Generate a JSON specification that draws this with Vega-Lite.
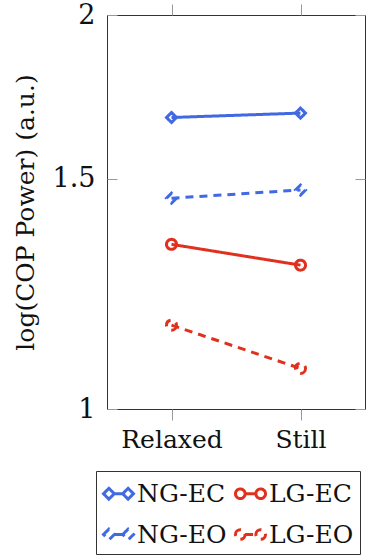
{
  "$schema": "https://vega.github.io/schema/vega-lite/v6.json",
  "width": 258,
  "height": 394,
  "autosize": {"type": "none"},
  "padding": {"left": 107, "top": 15, "right": 3, "bottom": 149},
  "background": "white",
  "config": {
    "font": "DejaVu Serif",
    "view": {"stroke": "#333", "strokeWidth": 1},
    "axis": {"grid": false, "domain": false, "labelFont": "DejaVu Serif", "titleFont": "DejaVu Serif", "labelColor": "#111", "titleColor": "#111", "tickColor": "#999", "tickWidth": 1},
    "legend": {"orient": "none", "legendX": -11, "legendY": 456, "columns": 2, "strokeColor": "#333", "padding": 6, "symbolSize": 900, "symbolStrokeWidth": 3, "labelFont": "DejaVu Serif", "labelFontSize": 25, "labelColor": "#111", "rowPadding": 11, "columnPadding": 2, "labelOffset": 2, "symbolFillColor": "transparent"}
  },
  "data": {
    "values": [
      {"condition": "Relaxed", "series": "NG-EC", "value": 1.670},
      {"condition": "Still", "series": "NG-EC", "value": 1.683},
      {"condition": "Relaxed", "series": "NG-EO", "value": 1.449},
      {"condition": "Still", "series": "NG-EO", "value": 1.470},
      {"condition": "Relaxed", "series": "LG-EC", "value": 1.336},
      {"condition": "Still", "series": "LG-EC", "value": 1.288},
      {"condition": "Relaxed", "series": "LG-EO", "value": 1.159},
      {"condition": "Still", "series": "LG-EO", "value": 1.074}
    ]
  },
  "encoding": {
    "x": {"field": "condition", "type": "ordinal", "scale": {"type": "point", "padding": 0.5, "domain": ["Relaxed", "Still"]}, "axis": null},
    "y": {"field": "value", "type": "quantitative", "scale": {"type": "log", "domain": [1, 2], "nice": false}, "axis": null},
    "color": {"field": "series", "type": "nominal", "title": null, "scale": {"domain": ["NG-EC", "NG-EO", "LG-EC", "LG-EO"], "range": ["#4169e1", "#4169e1", "#e0301e", "#e0301e"]}},
    "strokeDash": {"field": "series", "type": "nominal", "title": null, "scale": {"domain": ["NG-EC", "NG-EO", "LG-EC", "LG-EO"], "range": [[1, 0], [8, 6], [1, 0], [8, 6]]}}
  },
  "layer": [
    {
      "mark": {"type": "line", "strokeWidth": 3},
      "encoding": {
        "x": {"field": "condition", "type": "ordinal", "scale": {"type": "point", "padding": 0.5, "domain": ["Relaxed", "Still"]}, "axis": {"orient": "bottom", "title": null, "labelAngle": 0, "labelFontSize": 25, "tickSize": 11, "labelPadding": 7}},
        "y": {"field": "value", "type": "quantitative", "scale": {"type": "log", "domain": [1, 2], "nice": false}, "axis": {"orient": "left", "title": "log(COP Power) (a.u.)", "titleFontSize": 25, "titleFontWeight": "normal", "labelFontSize": 27, "values": [1, 1.5, 2], "tickSize": -10, "labelPadding": 22, "titlePadding": 14, "format": "~g"}}
      }
    },
    {
      "transform": [{"filter": "datum.series === 'NG-EC' || datum.series === 'NG-EO'"}],
      "mark": {"type": "point", "shape": "diamond", "filled": false, "size": 100, "strokeWidth": 3, "opacity": 1},
      "encoding": {
        "x": {"field": "condition", "type": "ordinal", "scale": {"type": "point", "padding": 0.5, "domain": ["Relaxed", "Still"]}, "axis": {"orient": "top", "title": null, "labels": false, "tickSize": 11}},
        "y": {"field": "value", "type": "quantitative", "scale": {"type": "log", "domain": [1, 2], "nice": false}, "axis": {"orient": "right", "title": null, "labels": false, "values": [1, 1.5, 2], "tickSize": -10}}
      }
    },
    {
      "transform": [{"filter": "datum.series === 'LG-EC' || datum.series === 'LG-EO'"}],
      "mark": {"type": "point", "shape": "circle", "filled": false, "size": 100, "strokeWidth": 3, "opacity": 1}
    },
    {
      "transform": [{"filter": "false"}],
      "mark": {"type": "point", "filled": false, "strokeWidth": 3, "opacity": 1},
      "encoding": {
        "shape": {"field": "series", "type": "nominal", "title": null, "scale": {"domain": ["NG-EC", "NG-EO", "LG-EC", "LG-EO"], "range": [
          "M-1,0 L-0.64,-0.36 L-0.28,0 L-0.64,0.36 Z M0.28,0 L0.64,-0.36 L1,0 L0.64,0.36 Z M-0.28,0 L0.28,0",
          "M-1,0 L-0.64,-0.36 L-0.28,0 L-0.64,0.36 Z M0.28,0 L0.64,-0.36 L1,0 L0.64,0.36 Z M-0.28,0 L0.28,0",
          "M-1,0 A0.32,0.32 0 1,1 -0.36,0 A0.32,0.32 0 1,1 -1,0 Z M0.36,0 A0.32,0.32 0 1,1 1,0 A0.32,0.32 0 1,1 0.36,0 Z M-0.36,0 L0.36,0",
          "M-1,0 A0.32,0.32 0 1,1 -0.36,0 A0.32,0.32 0 1,1 -1,0 Z M0.36,0 A0.32,0.32 0 1,1 1,0 A0.32,0.32 0 1,1 0.36,0 Z M-0.36,0 L0.36,0"
        ]}}
      }
    }
  ],
  "resolve": {"axis": {"x": "independent", "y": "independent"}}
}
